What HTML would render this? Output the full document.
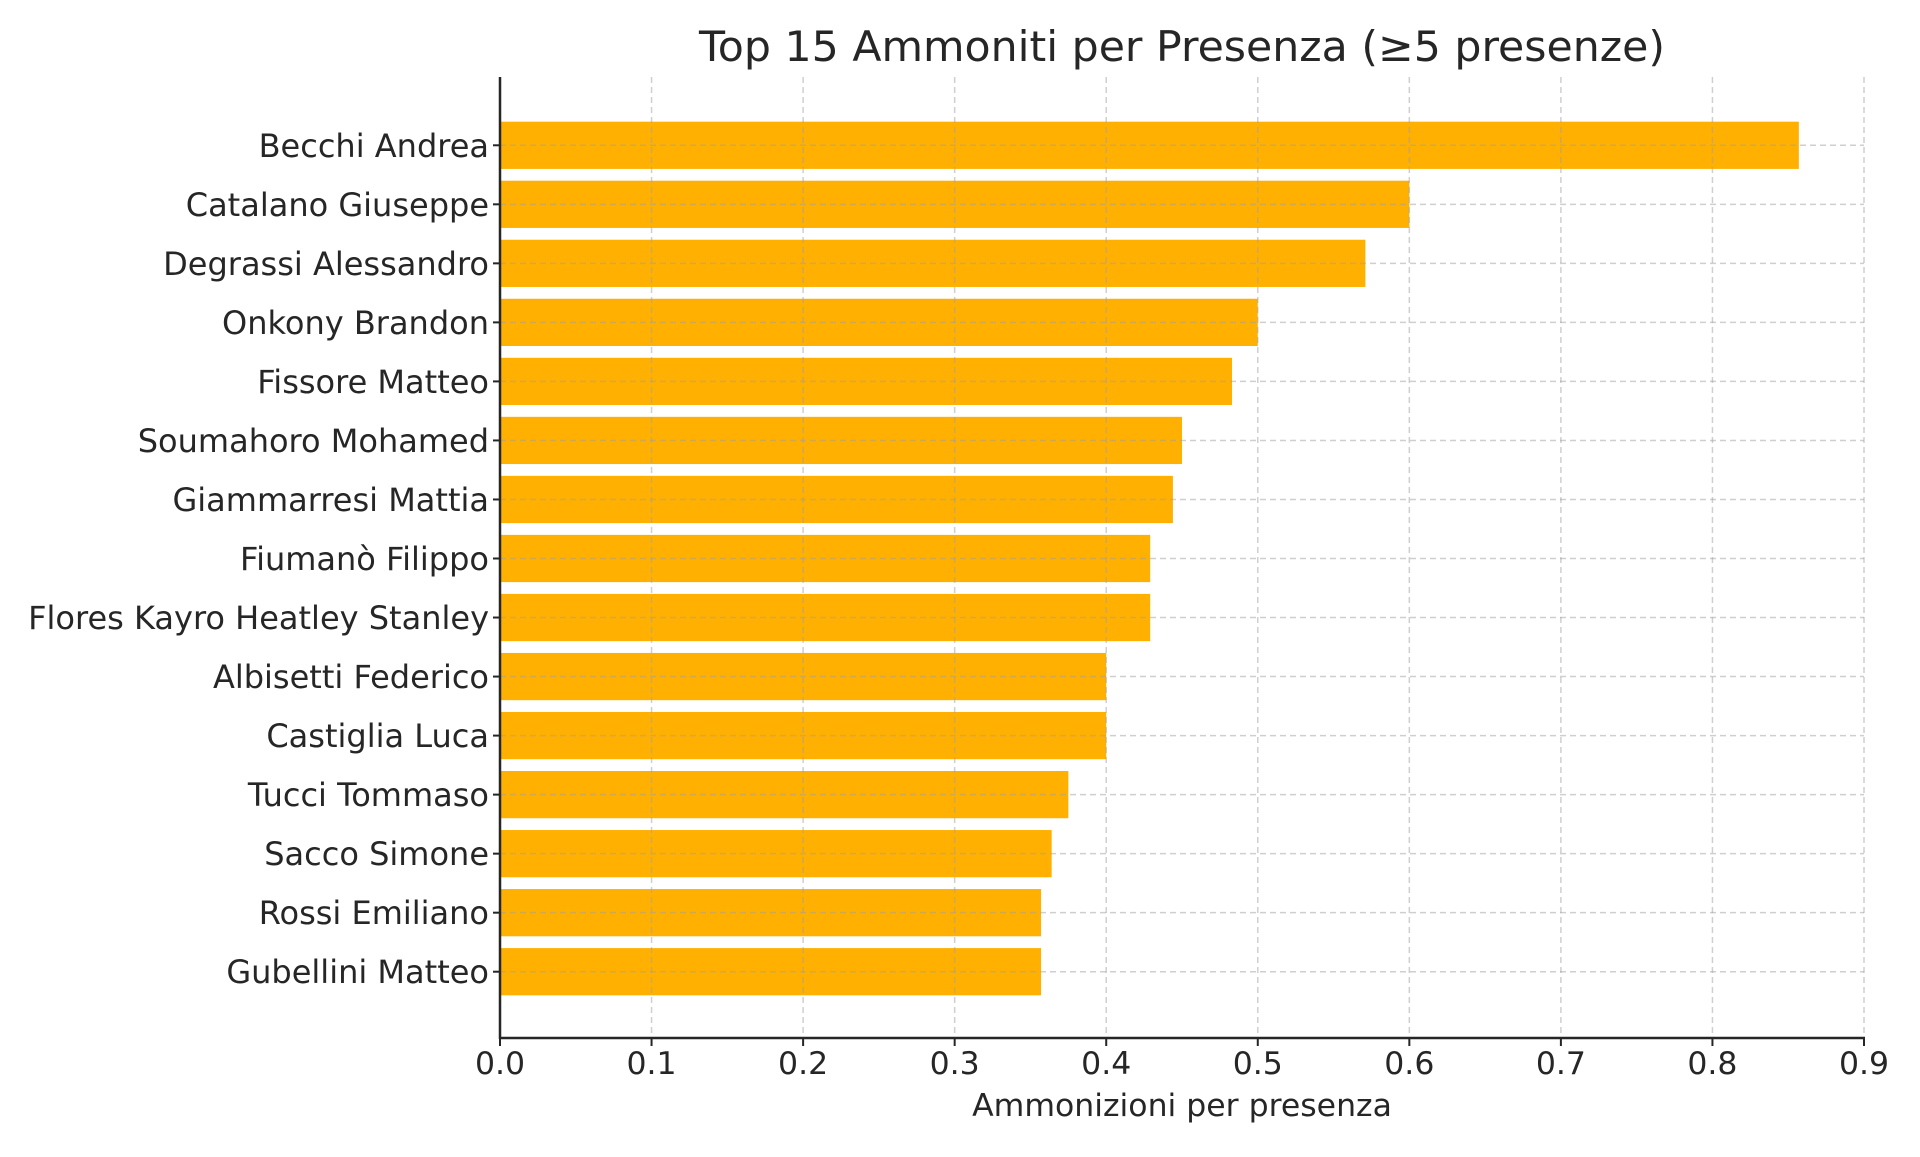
<!DOCTYPE html>
<html><head><meta charset="utf-8"><style>
html,body{margin:0;padding:0;background:#fff;}
svg text{font-family:"DejaVu Sans","Liberation Sans",sans-serif;fill:#262626;}
</style></head><body>
<svg id="chart" width="1920" height="1152" viewBox="0 0 1920 1152" xmlns="http://www.w3.org/2000/svg">
<rect width="1920" height="1152" fill="#fff"/>
<text x="1182" y="61" text-anchor="middle" font-size="42" textLength="966" lengthAdjust="spacingAndGlyphs">Top 15 Ammoniti per Presenza (≥5 presenze)</text>
<g id="bars"></g><g id="grid"></g><g id="axes"></g>
<text x="1182" y="1116" text-anchor="middle" font-size="31.5">Ammonizioni per presenza</text>
</svg>
<script>
const categories=["Becchi Andrea","Catalano Giuseppe","Degrassi Alessandro","Onkony Brandon","Fissore Matteo","Soumahoro Mohamed","Giammarresi Mattia","Fiumanò Filippo","Flores Kayro Heatley Stanley","Albisetti Federico","Castiglia Luca","Tucci Tommaso","Sacco Simone","Rossi Emiliano","Gubellini Matteo"];
const values=[0.857,0.6,0.571,0.5,0.483,0.45,0.444,0.429,0.429,0.4,0.4,0.375,0.364,0.357,0.357];
const xTicks=[0,0.1,0.2,0.3,0.4,0.5,0.6,0.7,0.8,0.9];
const xTickLabels=["0.0","0.1","0.2","0.3","0.4","0.5","0.6","0.7","0.8","0.9"];
const NS="http://www.w3.org/2000/svg";
const X0=500,X1=1864,YT=77,YB=1038,xmax=0.9;
const n=categories.length;
const step=(YB-YT)/(n-1+2*1.14);
const yoff=1;
const xs=v=>X0+(X1-X0)*v/xmax;
const yc=i=>YT+yoff+step*(1.14+i);
function mk(tag,attrs,parent){const e=document.createElementNS(NS,tag);for(const k in attrs)e.setAttribute(k,attrs[k]);parent.appendChild(e);return e;}
const bars=document.getElementById('bars'),grid=document.getElementById('grid'),axes=document.getElementById('axes');
const bh=step*0.8;
values.forEach((v,i)=>{
  const r=mk('rect',{x:X0,y:yc(i)-bh/2,width:xs(v)-X0,height:bh,fill:'#FFB000'},bars);
  
  
  const g=mk('line',{x1:X0,x2:X1,y1:yc(i),y2:yc(i),stroke:'rgba(160,160,160,0.5)','stroke-width':1.5,'stroke-dasharray':'6,4'},grid);
  
  
  const t=mk('line',{x1:X0-7,x2:X0,y1:yc(i),y2:yc(i),stroke:'#262626','stroke-width':2},axes);
  
  
  const l=mk('text',{x:X0-11,y:yc(i)+11.5,'text-anchor':'end','font-size':32},axes);
  l.textContent=categories[i];
  
  
});
xTicks.forEach((v,i)=>{
  const x=xs(v);
  if(i>0){const g=mk('line',{x1:x,x2:x,y1:YT,y2:YB,stroke:'rgba(160,160,160,0.5)','stroke-width':1.5,'stroke-dasharray':'6,4'},grid);
  
  }
  const t=mk('line',{x1:x,x2:x,y1:YB,y2:YB+8,stroke:'#262626','stroke-width':2},axes);
  
  
  const l=mk('text',{x:x,y:1074,'text-anchor':'middle','font-size':31.5},axes);
  l.textContent=xTickLabels[i];
  
  
});
const ya=mk('line',{x1:X0,x2:X0,y1:YT,y2:YB+1,stroke:'#262626','stroke-width':2.5},axes);


const xa=mk('line',{x1:X0-1,x2:X1+1,y1:YB,y2:YB,stroke:'#262626','stroke-width':2.5},axes);


</script>
</body></html>
